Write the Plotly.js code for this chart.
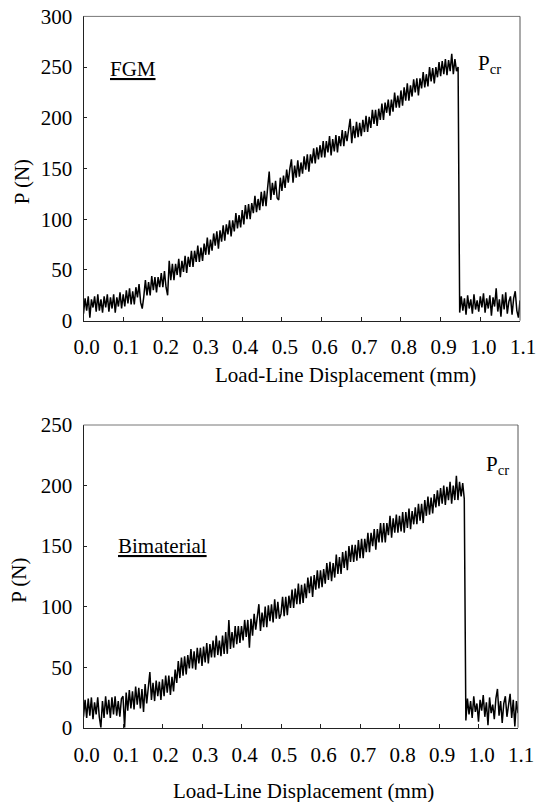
<!DOCTYPE html>
<html>
<head>
<meta charset="utf-8">
<script src="https://cdn.plot.ly/plotly-3.0.1.min.js"></script>
<style>
html,body{margin:0;padding:0;background:#fff;}
#chart{width:537px;height:802px;}
</style>
</head>
<body>
<div id="chart"></div>
<script>
// Load-line displacement sampling (mm)
const dispStart = 0;
const dispStep = 0.004;

// FGM specimen: load P (N) at each displacement sample
const fgmLoad = [
7,22,10,24,3,21,13,24,9,26,10,21,8,24,13,26,9,23,12,26,8,23,14,28,12,
26,14,30,17,32,16,29,16,33,23,36,18,12,24,40,25,38,25,44,30,43,28,43,33,47,
33,49,33,25,59,40,56,40,56,45,61,43,59,48,64,47,63,53,69,53,69,58,74,58,72,
59,76,65,82,65,80,69,86,74,88,71,89,78,94,79,95,85,99,83,99,88,106,91,104,92,
109,95,114,100,115,100,116,106,123,107,120,109,127,113,128,113,131,147,119,136,124,138,121,119,141,
128,143,131,149,136,150,159,136,153,141,158,142,156,145,162,149,164,147,164,155,170,155,171,159,173,
161,177,161,177,166,182,163,179,167,183,166,182,172,188,172,187,177,191,199,175,192,180,196,181,195,
182,198,186,202,186,201,190,208,194,208,192,209,198,214,198,215,205,218,202,218,206,225,210,222,210,
227,212,230,217,234,217,232,221,238,225,239,222,239,229,245,230,243,231,250,236,249,234,250,240,255,
241,256,243,258,242,257,246,263,243,258,246,250,
8,24,10,22,6,25,12,21,7,26,11,20,9,24,13,27,8,22,12,25,5,23,14,32,9,21,4,26,11,28,7,19,24,6,22,29,10,3,20
];

// Bimaterial specimen: load P (N) at each displacement sample
const bimLoad = [
9,23,8,24,10,25,7,21,11,25,9,0,22,8,26,11,23,8,25,11,26,10,22,9,24,
26,0,29,14,31,16,30,15,34,19,33,16,32,13,36,20,34,46,23,37,22,39,26,38,23,
40,26,43,29,43,27,42,30,48,37,55,41,58,43,59,44,60,49,65,49,63,48,66,53,66,
51,67,54,70,53,69,58,72,58,76,60,72,59,76,61,79,61,89,65,79,66,84,69,84,70,
84,72,89,75,89,66,90,76,94,81,94,102,80,95,83,100,83,101,88,102,87,106,90,104,90,
94,108,92,108,93,109,99,114,99,115,102,119,102,118,103,119,107,124,111,125,108,126,114,130,115,
130,116,131,119,136,122,137,121,136,124,143,127,141,127,145,132,146,130,150,137,151,137,151,138,155,
140,156,140,156,145,161,145,161,150,164,147,164,153,169,153,169,153,169,159,175,157,173,161,176,161,
175,162,178,161,178,165,181,164,179,168,182,168,185,171,185,169,188,175,191,176,190,177,193,182,196,
183,198,185,200,184,199,188,203,185,200,188,208,188,203,191,202,189,
6,24,11,22,8,26,13,20,5,23,14,27,9,21,2,25,12,19,7,24,32,10,22,4,20,26,9,18,28,8,23,1,22,12
];

const xTickVals = [0,0.1,0.2,0.3,0.4,0.5,0.6,0.7,0.8,0.9,1.0,1.1];
const xTickText = ['0.0','0.1','0.2','0.3','0.4','0.5','0.6','0.7','0.8','0.9','1.0','1.1'];
const fgmYTicks = [0,50,100,150,200,250,300];
const bimYTicks = [0,50,100,150,200,250];

const FONT = '"Liberation Serif", "Times New Roman", Times, "DejaVu Serif", serif';
const FS = 21;
const W = 537, H = 802;
const px = v => v / W;
const py = v => 1 - v / H;

const traces = [
  {x0: dispStart, dx: dispStep, y: fgmLoad, type: 'scatter', mode: 'lines',
   line: {color: '#000', width: 1.5}, xaxis: 'x', yaxis: 'y', hoverinfo: 'skip'},
  {x0: dispStart, dx: dispStep, y: bimLoad, type: 'scatter', mode: 'lines',
   line: {color: '#000', width: 1.5}, xaxis: 'x2', yaxis: 'y2', hoverinfo: 'skip'}
];

function xAxis(domain, anchor, standoff) {
  return {domain: domain, anchor: anchor, range: [0, 1.1], tickvals: xTickVals, ticktext: xTickText,
    ticks: 'inside', ticklen: 4, tickcolor: '#222', tickwidth: 1,
    showline: true, linecolor: '#222', linewidth: 1, mirror: false,
    showgrid: false, zeroline: false, fixedrange: true,
    tickfont: {family: FONT, size: FS, color: '#000'}, ticklabelshift: 3, ticklabelstandoff: standoff};
}
function yAxis(domain, anchor, range, vals) {
  return {domain: domain, anchor: anchor, range: range, tickvals: vals,
    ticks: 'inside', ticklen: 3, tickcolor: '#222', tickwidth: 1,
    showline: true, linecolor: '#222', linewidth: 1, mirror: false,
    showgrid: false, zeroline: false, fixedrange: true,
    tickfont: {family: FONT, size: FS, color: '#000'}, ticklabelstandoff: 6};
}

const frameShapes = [];
[['x','y'],['x2','y2']].forEach(([xa, ya]) => {
  frameShapes.push({type: 'line', xref: xa + ' domain', yref: ya + ' domain', x0: 0, x1: 1, y0: 1, y1: 1,
    line: {color: '#777', width: 1}});
  frameShapes.push({type: 'line', xref: xa + ' domain', yref: ya + ' domain', x0: 1, x1: 1, y0: 0, y1: 1,
    line: {color: '#555', width: 1}});
});

function ann(text, x, y, opts) {
  return Object.assign({text: text, x: px(x), y: py(y), xref: 'paper', yref: 'paper',
    xanchor: 'center', yanchor: 'middle', showarrow: false,
    font: {family: FONT, size: FS, color: '#000'}}, opts || {});
}

const layout = {
  width: W, height: H,
  margin: {l: 0, r: 0, t: 0, b: 0},
  paper_bgcolor: '#fff', plot_bgcolor: '#fff',
  showlegend: false,
  font: {family: FONT, size: FS, color: '#000'},
  xaxis: xAxis([px(83.5), px(520)], 'y', 7),
  yaxis: yAxis([py(320.7), py(16.4)], 'x', [0, 300], fgmYTicks),
  xaxis2: xAxis([px(83.5), px(518)], 'y2', 8),
  yaxis2: yAxis([py(727.7), py(425)], 'x2', [0, 250], bimYTicks),
  shapes: frameShapes,
  annotations: [
    ann('Load-Line Displacement (mm)', 345.6, 375),
    ann('P (N)', 22.2, 182, {textangle: -90}),
    ann('<u>FGM</u>', 133, 69),
    ann('P<sub>cr</sub>', 476, 64, {xanchor: 'left'}),
    ann('Load-Line Displacement (mm)', 303.7, 791),
    ann('P (N)', 18.8, 580, {textangle: -90}),
    ann('<u>Bimaterial</u>', 162, 546),
    ann('P<sub>cr</sub>', 484, 465, {xanchor: 'left'})
  ]
};

Plotly.newPlot('chart', traces, layout, {staticPlot: true, displayModeBar: false});
</script>
</body>
</html>
